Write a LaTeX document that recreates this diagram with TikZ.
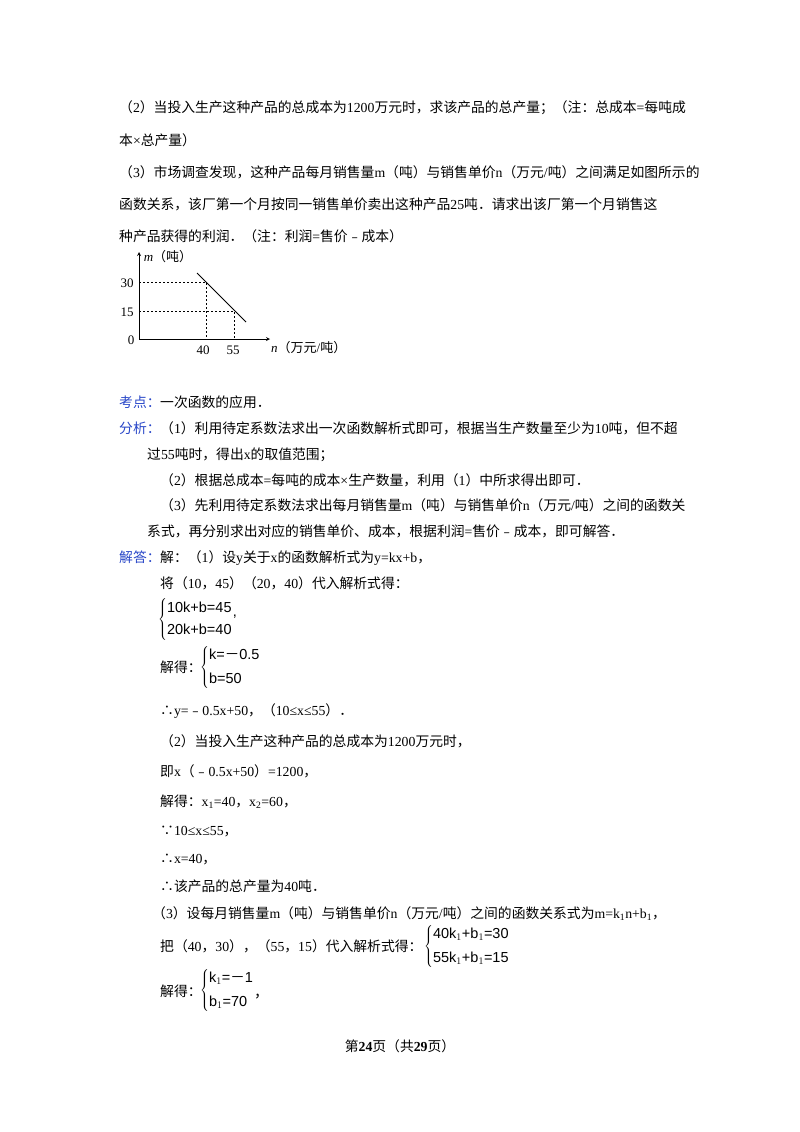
\documentclass[tikz,border=0pt]{standalone}
\usepackage{fontspec}
\setmainfont{Liberation Serif}
\newfontfamily\cjk{Noto Sans CJK SC}
\newfontfamily\eqf{Liberation Sans}
\XeTeXinterchartokenstate=1
\newXeTeXintercharclass\cjkclass
\newcount\cc
\cc="4E00 \loop \XeTeXcharclass\cc=\cjkclass \advance\cc1 \ifnum\cc<"A000 \repeat
\cc="3000 \loop \XeTeXcharclass\cc=\cjkclass \advance\cc1 \ifnum\cc<"3040 \repeat
\cc="FF00 \loop \XeTeXcharclass\cc=\cjkclass \advance\cc1 \ifnum\cc<"FFF0 \repeat
\XeTeXcharclass"2234=\cjkclass \XeTeXcharclass"2235=\cjkclass \XeTeXcharclass"FE63=\cjkclass
\XeTeXinterchartoks 0 \cjkclass = {\begingroup\cjk}
\XeTeXinterchartoks 4095 \cjkclass = {\begingroup\cjk}
\XeTeXinterchartoks \cjkclass 0 = {\endgroup}
\XeTeXinterchartoks \cjkclass 4095 = {\endgroup}
\definecolor{kb}{RGB}{40,70,200}
\newcommand{\tx}[1]{\mbox{\eqf #1}}
\begin{document}
\begin{tikzpicture}[x=1pt,y=-1pt,
 t/.style={anchor=base west,inner sep=0,font=\fontsize{13.8}{14}\selectfont},
 lb/.style={t,text=kb},
 ax/.style={->,>=stealth,line width=0.8pt},
 dsh/.style={dashed,dash pattern=on 2pt off 2pt,line width=0.6pt},
 sm/.style={inner sep=1pt,font=\fontsize{13}{13}\selectfont},
 eq/.style={anchor=west,inner sep=0,font=\eqf\fontsize{14.5}{15}\selectfont\def\arraystretch{1.45}}]
\useasboundingbox (0,0) rectangle (800,1132);
\fill[white] (0,0) rectangle (800,1132);
\node[t] (l1) at (119,112) {（2）当投入生产这种产品的总成本为1200万元时，求该产品的总产量；（注：总成本=每吨成};
\node[t] (l2) at (119,145) {本×总产量）};
\node[t] (l3) at (119,177) {（3）市场调查发现，这种产品每月销售量m（吨）与销售单价n（万元/吨）之间满足如图所示的};
\node[t] (l4) at (119,209) {函数关系，该厂第一个月按同一销售单价卖出这种产品25吨．请求出该厂第一个月销售这};
\node[t] (l5) at (119,241) {种产品获得的利润．（注：利润=售价﹣成本）};
% graph
\coordinate (O) at (139,339);
\coordinate (Y) at (139,252);
\coordinate (X) at (270,339);
\draw[ax] (O) -- (Y);
\draw[ax] (O) -- (X);
\coordinate (P) at (206,282); \coordinate (Q) at (234,311);
\coordinate (A) at (197,273); \coordinate (B) at (246,322);
\draw[line width=0.8pt] (A) -- (B);
\draw[dsh] (139,282) -- (P) -- (206,339);
\draw[dsh] (139,311) -- (Q) -- (234,339);
\node[sm] (ym) at (168,257) {\textit{m}（吨）};
\node[sm,anchor=west] (xn) at (270,348) {\textit{n}（万元/吨）};
\node[sm] (t30) at (127,283) {30};
\node[sm] (t15) at (127,312) {15};
\node[sm] (t0) at (131,340) {0};
\node[sm] (t40) at (203,350) {40};
\node[sm] (t55) at (233,350) {55};
% analysis
\node[lb] (kd) at (119,407) {考点：};
\node[t] (kd2) at (160,407) {一次函数的应用．};
\node[lb] (fx) at (119,433) {分析：};
\node[t] (a1) at (160,433) {（1）利用待定系数法求出一次函数解析式即可，根据当生产数量至少为10吨，但不超};
\node[t] (a2) at (147,459) {过55吨时，得出x的取值范围；};
\node[t] (a3) at (160,485) {（2）根据总成本=每吨的成本×生产数量，利用（1）中所求得出即可．};
\node[t] (a4) at (160,510) {（3）先利用待定系数法求出每月销售量m（吨）与销售单价n（万元/吨）之间的函数关};
\node[t] (a5) at (147,536) {系式，再分别求出对应的销售单价、成本，根据利润=售价﹣成本，即可解答．};
\node[lb] (jd) at (119,562) {解答：};
\node[t] (s1) at (160,562) {解：（1）设y关于x的函数解析式为y=kx+b，};
\node[t] (s2) at (160,588) {将（10，45）（20，40）代入解析式得：};
\node[eq] (e1) at (158,619) {$\left\{\begin{array}{@{}l@{}}\tx{10k+b=45}\\\tx{20k+b=40}\end{array}\right.$\raisebox{6pt}{,}};
\node[t] (s3) at (160,672) {解得：};
\node[eq] (e2) at (200,667) {$\left\{\begin{array}{@{}l@{}}\tx{k=－0.5}\\[2pt]\tx{b=50}\end{array}\right.$};
\node[t] (s4) at (160,715) {∴y=﹣0.5x+50，（10≤x≤55）．};
\node[t] (s5) at (160,746) {（2）当投入生产这种产品的总成本为1200万元时，};
\node[t] (s6) at (160,776) {即x（﹣0.5x+50）=1200，};
\node[t] (s7) at (160,806) {解得：x\textsubscript{1}=40，x\textsubscript{2}=60，};
\node[t] (s8) at (160,835) {∵10≤x≤55，};
\node[t] (s9) at (160,863) {∴x=40，};
\node[t] (s10) at (160,891) {∴该产品的总产量为40吨．};
\node[t] (s11) at (152,918) {（3）设每月销售量m（吨）与销售单价n（万元/吨）之间的函数关系式为m=k\textsubscript{1}n+b\textsubscript{1}，};
\node[t] (s12) at (160,951) {把（40，30），（55，15）代入解析式得：};
\node[eq] (e3) at (424,946) {$\left\{\begin{array}{@{}l@{}}\tx{40k}_{1}\tx{+b}_{1}\tx{=30}\\[2pt]\tx{55k}_{1}\tx{+b}_{1}\tx{=15}\end{array}\right.$};
\node[t] (s13) at (160,996) {解得：};
\node[eq] (e4) at (200,990) {$\left\{\begin{array}{@{}l@{}}\tx{k}_{1}\tx{=－1}\\[2pt]\tx{b}_{1}\tx{=70}\end{array}\right.$\raisebox{-4pt}{，}};
\node[t,anchor=base] (ft) at (400,1051) {第\textbf{24}页（共\textbf{29}页）};
\end{tikzpicture}
\end{document}
